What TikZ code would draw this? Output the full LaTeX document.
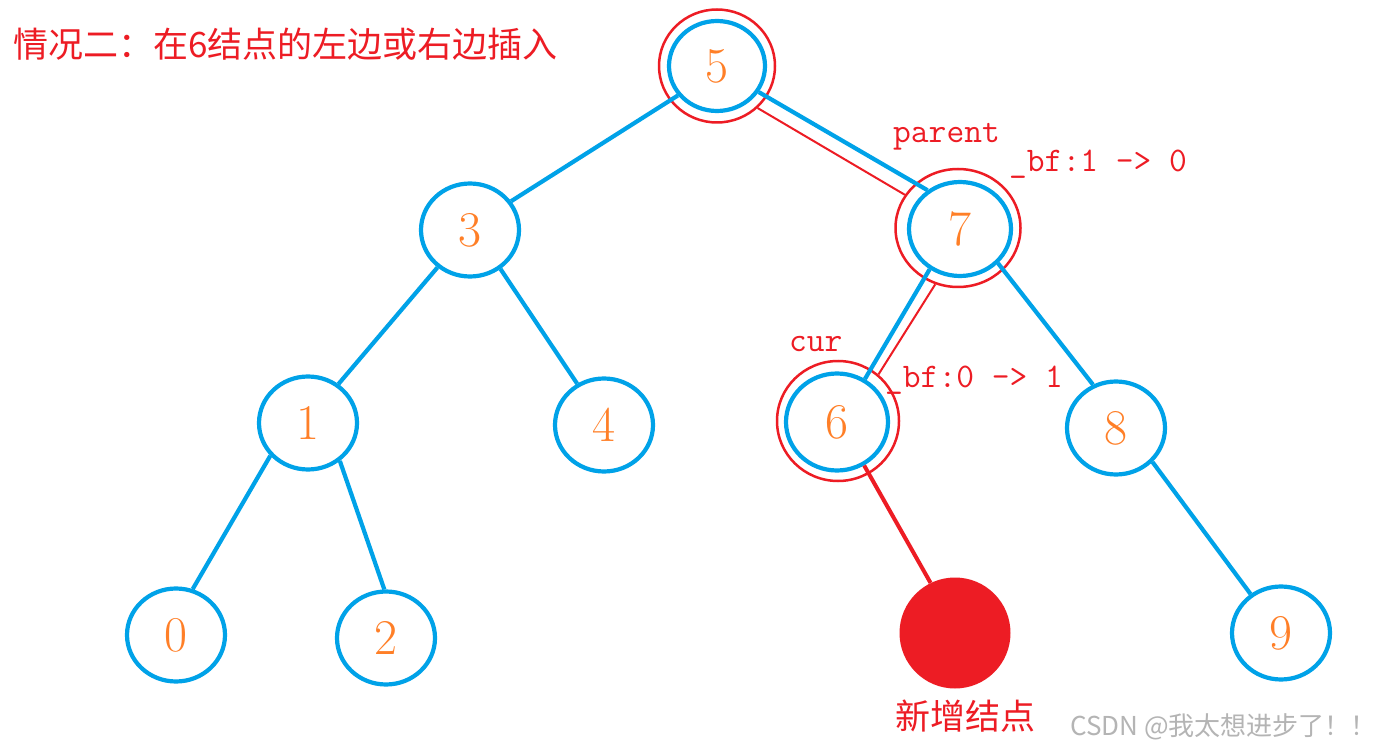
\documentclass[tikz,border=0pt]{standalone}
\usepackage{fontspec}
\newfontfamily\cjk{Noto Sans CJK SC}
\usetikzlibrary{shapes.geometric}
\definecolor{pblue}{HTML}{00A2E8}
\definecolor{pred}{HTML}{ED1C24}
\definecolor{porange}{HTML}{FF7F27}
\definecolor{wgray}{HTML}{B4B4B4}
\tikzset{
  tnode/.style={ellipse, draw=pblue, line width=4.2pt, inner sep=0pt,
    minimum width=98pt, minimum height=93pt, text=porange,
    font=\fontsize{50}{50}\selectfont},
  ring/.style={ellipse, draw=pred, line width=2.5pt, inner sep=0pt},
  bedge/.style={draw=pblue, line width=4.2pt},
  redge/.style={draw=pred, line width=2pt},
  lbl/.style={text=pred, inner sep=0pt, font=\ttfamily\fontsize{34.5}{34.5}\selectfont},
  cjklbl/.style={text=pred, inner sep=0pt, font=\cjk\fontsize{35}{35}\selectfont}
}
\begin{document}
\begin{tikzpicture}[x=1pt,y=-1pt]
\useasboundingbox[fill=white] (0,0) rectangle (1387,751);
% nodes
\node[tnode, minimum width=96pt, minimum height=90pt] (n5) at (717,66) {5};
\node[tnode] (n3) at (470,230) {3};
\node[tnode, minimum width=102pt, minimum height=94pt] (n7) at (960,229) {7};
\node[tnode] (n1) at (308,423) {1};
\node[tnode] (n4) at (604,425) {4};
\node[tnode, minimum width=102pt, minimum height=97pt] (n6) at (837,422) {6};
\node[tnode] (n8) at (1116,428) {8};
\node[tnode] (n0) at (176,635) {0};
\node[tnode] (n2) at (386,638) {2};
\node[tnode] (n9) at (1281,633) {9};
\node[circle, fill=pred, inner sep=0pt, minimum size=111pt] (new) at (955,633) {};
% red rings
\node[ring, minimum width=116pt, minimum height=113pt] (r5) at (717,66) {};
\node[ring, minimum width=125pt, minimum height=118pt] (r7) at (958,228) {};
\node[ring, minimum width=122pt, minimum height=120pt] (r6) at (838,421) {};
% blue edges
\draw[bedge] (n5.-143) -- (n3.35);
\draw[bedge] (n3.-131) -- (n1.52);
\draw[bedge] (n3.-52) -- (n4.123);
\draw[bedge] (n1.-139) -- (n0.70);
\draw[bedge] (n1.-50) -- (n2.92);
\draw[bedge] (n7.-42) -- (n8.118);
\draw[bedge] (n8.-43) -- (n9.128);
\draw[bedge] (n5.-32) -- (n7.130);
\draw[bedge] (n7.-127) -- (n6.57);
% red edges
\draw[redge] (r5.-46) -- (r7.148);
\draw[redge] (r7.-112) -- (r6.49);
\draw[draw=pred, line width=4pt] (n6.-58) -- (new.116);
% labels
\node[cjklbl, anchor=west] (title) at (13,44) {情况二：在6结点的左边或右边插入};
\node[lbl, anchor=base west] (lparent) at (893,143) {parent};
\node[lbl, anchor=base west] (lbf7) at (1009,172) {\_bf:1 -> 0};
\node[lbl, anchor=base west] (lcur) at (789,352) {cur};
\node[lbl, anchor=base west] (lbf6) at (885,387) {\_bf:0 -> 1};
\node[cjklbl] (lnew) at (965,716) {新增结点};
\node[text=wgray, inner sep=0pt, anchor=east, font=\cjk\fontsize{26}{26}\selectfont] (wm) at (1377,727) {CSDN @我太想进步了！！};
\end{tikzpicture}
\end{document}
